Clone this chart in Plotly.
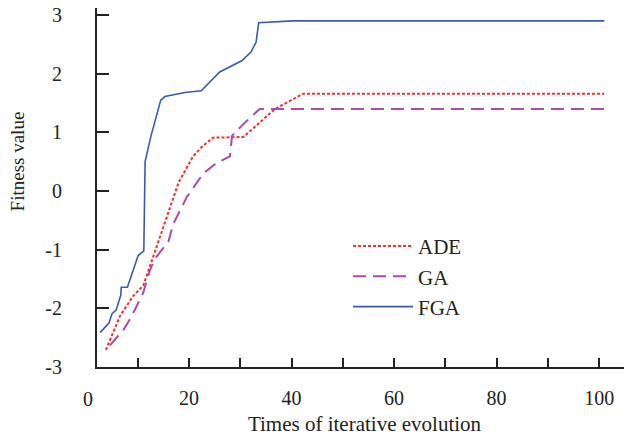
import plotly.graph_objects as go

# Data
ADE_x = [3.8, 6.5, 9.1, 11.1, 13.5, 15.3, 18.0, 20.8, 22.5, 24.7, 30.6, 36.8, 42.3, 101]
ADE_y = [-2.71, -2.14, -1.79, -1.61, -1.0, -0.54, 0.15, 0.59, 0.75, 0.91, 0.92, 1.40, 1.66, 1.66]

GA_x = [4.6, 7.2, 8.8, 11.1, 12.4, 13.4, 16.0, 16.9, 19.6, 22.8, 25.4, 28.0, 28.4, 30.6, 33.8, 101]
GA_y = [-2.63, -2.37, -2.14, -1.73, -1.35, -1.15, -0.86, -0.57, -0.10, 0.30, 0.48, 0.59, 0.94, 1.14, 1.40, 1.40]

FGA_x = [2.7, 4.4, 5.0, 5.8, 6.7, 6.8, 8.0, 10.1, 11.2, 11.45, 12.6, 13.7, 14.5, 15.3, 19.2, 22.4,
         26.0, 30.3, 32.1, 33.1, 33.6, 40.3, 101]
FGA_y = [-2.41, -2.25, -2.09, -2.03, -1.78, -1.64, -1.64, -1.10, -1.02, 0.50, 0.94, 1.29, 1.55, 1.61,
         1.68, 1.71, 2.03, 2.22, 2.37, 2.54, 2.87, 2.90, 2.90]

x_ticks = [20, 40, 60, 80, 100]
x_ticktext = ["20", "40", "60", "80", "100"]
y_ticks = [-3, -2, -1, 0, 1, 2, 3]
y_ticktext = ["-3", "-2", "-1", "0", "1", "2", "3"]

FONT = "Liberation Serif"
INK = "#222222"

fig = go.Figure()
fig.add_trace(go.Scatter(x=ADE_x, y=ADE_y, mode="lines", name="ADE",
                         line=dict(color="#FF2A2A", width=2, dash="3px,2px")))
fig.add_trace(go.Scatter(x=GA_x, y=GA_y, mode="lines", name="GA",
                         line=dict(color="#A84CAC", width=2, dash="13px,7px")))
fig.add_trace(go.Scatter(x=FGA_x, y=FGA_y, mode="lines", name="FGA",
                         line=dict(color="#3C5AAA", width=1.6)))

axis_common = dict(showgrid=False, zeroline=False, showline=True, linecolor=INK,
                   linewidth=2, ticks="inside", tickcolor=INK, tickwidth=2, automargin=False,
                   ticklabeloverflow="allow",
                   tickfont=dict(family=FONT, size=20, color=INK))

# The page body adds an 8px offset, so the figure is 8px smaller and margins are reduced by 8px.
fig.update_layout(
    width=624, height=428,
    margin=dict(l=89, r=0, t=0, b=69),
    plot_bgcolor="white", paper_bgcolor="white",
    font=dict(family=FONT, size=20, color=INK),
    showlegend=True,
    legend=dict(x=0.4692, y=0.393, xanchor="left", yanchor="top",
                bgcolor="rgba(0,0,0,0)", font=dict(family=FONT, size=21, color=INK),
                itemwidth=60),
    xaxis=dict(range=[2.07, 106.4], tickvals=x_ticks, ticktext=x_ticktext, ticklen=9,
               minor=dict(dtick=10, tick0=0, ticks="inside", ticklen=9, tickwidth=2, tickcolor=INK),
               ticklabelstandoff=12,
               title=dict(text="Times of iterative evolution", standoff=14,
                          font=dict(family=FONT, size=21, color=INK)),
               **axis_common),
    yaxis=dict(range=[-3, 3.12], tickvals=y_ticks, ticktext=y_ticktext, ticklen=12,
               ticklabelstandoff=29, **axis_common),
    annotations=[
        dict(text="0", xref="paper", yref="paper", x=(88.3 - 97) / 535, y=(359 - 390) / 351,
             xanchor="center", yanchor="middle", showarrow=False,
             font=dict(family=FONT, size=20, color=INK)),
        dict(text="Fitness value", xref="paper", yref="paper", x=(17 - 97) / 535, y=(359 - 158) / 351,
             xanchor="center", yanchor="middle", textangle=-90, showarrow=False,
             font=dict(family=FONT, size=19, color=INK)),
    ],
)

fig.write_html("out.html")
